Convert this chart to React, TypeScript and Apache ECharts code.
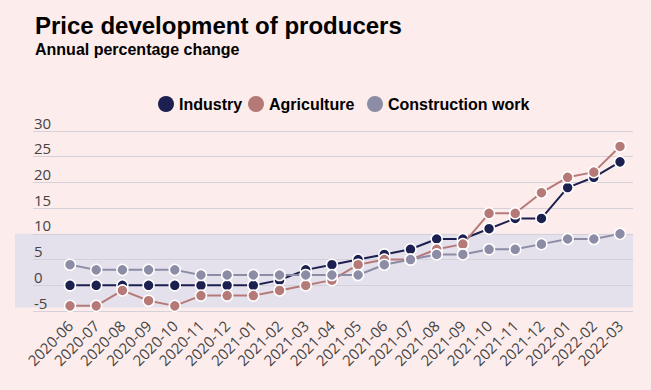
import React, { useEffect, useRef } from "react";
import * as echarts from "echarts";

const categories = [
  "2020-06", "2020-07", "2020-08", "2020-09", "2020-10", "2020-11", "2020-12",
  "2021-01", "2021-02", "2021-03", "2021-04", "2021-05", "2021-06", "2021-07",
  "2021-08", "2021-09", "2021-10", "2021-11", "2021-12", "2022-01", "2022-02", "2022-03",
];
const industry = [0, 0, 0, 0, 0, 0, 0, 0, 1, 3, 4, 5, 6, 7, 9, 9, 11, 13, 13, 19, 21, 24];
const agriculture = [-4, -4, -1, -3, -4, -2, -2, -2, -1, 0, 1, 4, 5, 5, 7, 8, 14, 14, 18, 21, 22, 27];
const construction = [4, 3, 3, 3, 3, 2, 2, 2, 2, 2, 2, 2, 4, 5, 6, 6, 7, 7, 8, 9, 9, 10];
const seriesNames = ["Industry", "Agriculture", "Construction work"];
const colors = ["#1c2050", "#b57a78", "#8d8ca6"];
const yTicks = [-5, 0, 5, 10, 15, 20, 25, 30];
const bandRange = [-4.3, 10];

const BG = "#fdecec";
const TICK_FONT = "'Open Sans', 'DejaVu Sans', sans-serif";
const TITLE_FONT = "'Liberation Sans', Arial, sans-serif";

export default function App() {
  const ref = useRef<HTMLDivElement>(null);
  useEffect(() => {
    if (!ref.current) return;
    const chart = echarts.init(ref.current, null, { renderer: "svg" });
    const allData = [industry, agriculture, construction];
    const legendLefts = [158, 248, 367];
    chart.setOption({
      animation: false,
      backgroundColor: BG,
      title: [
        {
          text: "Price development of producers",
          left: 35,
          top: 13,
          padding: 0,
          textStyle: { fontFamily: TITLE_FONT, fontSize: 24, fontWeight: "bold", color: "#000" },
        },
        {
          text: "Annual percentage change",
          left: 35,
          top: 41,
          padding: 0,
          textStyle: { fontFamily: TITLE_FONT, fontSize: 16, fontWeight: "bold", color: "#000" },
        },
      ],
      legend: seriesNames.map((n, i) => ({
        data: [n],
        left: legendLefts[i],
        top: 96,
        padding: 0,
        icon: "circle",
        itemWidth: 16,
        itemHeight: 16,
        itemGap: 10,
        itemStyle: { borderWidth: 0 },
        textStyle: { fontFamily: TITLE_FONT, fontSize: 16, fontWeight: "bold", color: "#000" },
      })),
      grid: { left: 33, right: 18, top: 131, bottom: 79, containLabel: false },
      xAxis: {
        type: "value",
        min: -1.413,
        max: 21.496,
        axisLine: { show: false },
        axisTick: { show: false },
        splitLine: { show: false },
        axisLabel: {
          customValues: categories.map((_, i) => i),
          formatter: (v: number) => categories[Math.round(v)] ?? "",
          rotate: 45,
          margin: 12,
          fontFamily: TICK_FONT,
          fontSize: 15,
          color: "#444",
        },
      },
      yAxis: {
        type: "value",
        min: yTicks[0],
        max: yTicks[yTicks.length - 1],
        interval: 5,
        axisLine: { show: false },
        axisTick: { show: false },
        splitLine: { lineStyle: { color: "#d6d0d8", width: 1 } },
        axisLabel: {
          inside: true,
          margin: 1,
          verticalAlign: "bottom",
          padding: [0, 0, 1, 0],
          fontFamily: TICK_FONT,
          fontSize: 15,
          color: "#444",
        },
      },
      series: seriesNames.map((n, i) => ({
        name: n,
        type: "line",
        data: allData[i].map((v, j) => [j, v]),
        symbol: "circle",
        symbolSize: 11,
        z: 3 + i,
        lineStyle: { color: colors[i], width: 2 },
        itemStyle: { color: colors[i], borderColor: "#ffffff", borderWidth: 1.5 },
        emphasis: { disabled: true },
      })),
    });
    const yTop = chart.convertToPixel({ yAxisIndex: 0 }, bandRange[1]) as number;
    const yBot = chart.convertToPixel({ yAxisIndex: 0 }, bandRange[0]) as number;
    const width = chart.getWidth();
    chart.setOption({
      graphic: [
        {
          type: "rect",
          z: -10,
          silent: true,
          shape: { x: 15, y: yTop, width: width - 18 - 15, height: yBot - yTop },
          style: { fill: "#e4e1ec" },
        },
      ],
    });
    return () => chart.dispose();
  }, []);
  return <div ref={ref} style={{ width: 651, height: 390, position: "absolute", left: 0, top: 0 }} />;
}
